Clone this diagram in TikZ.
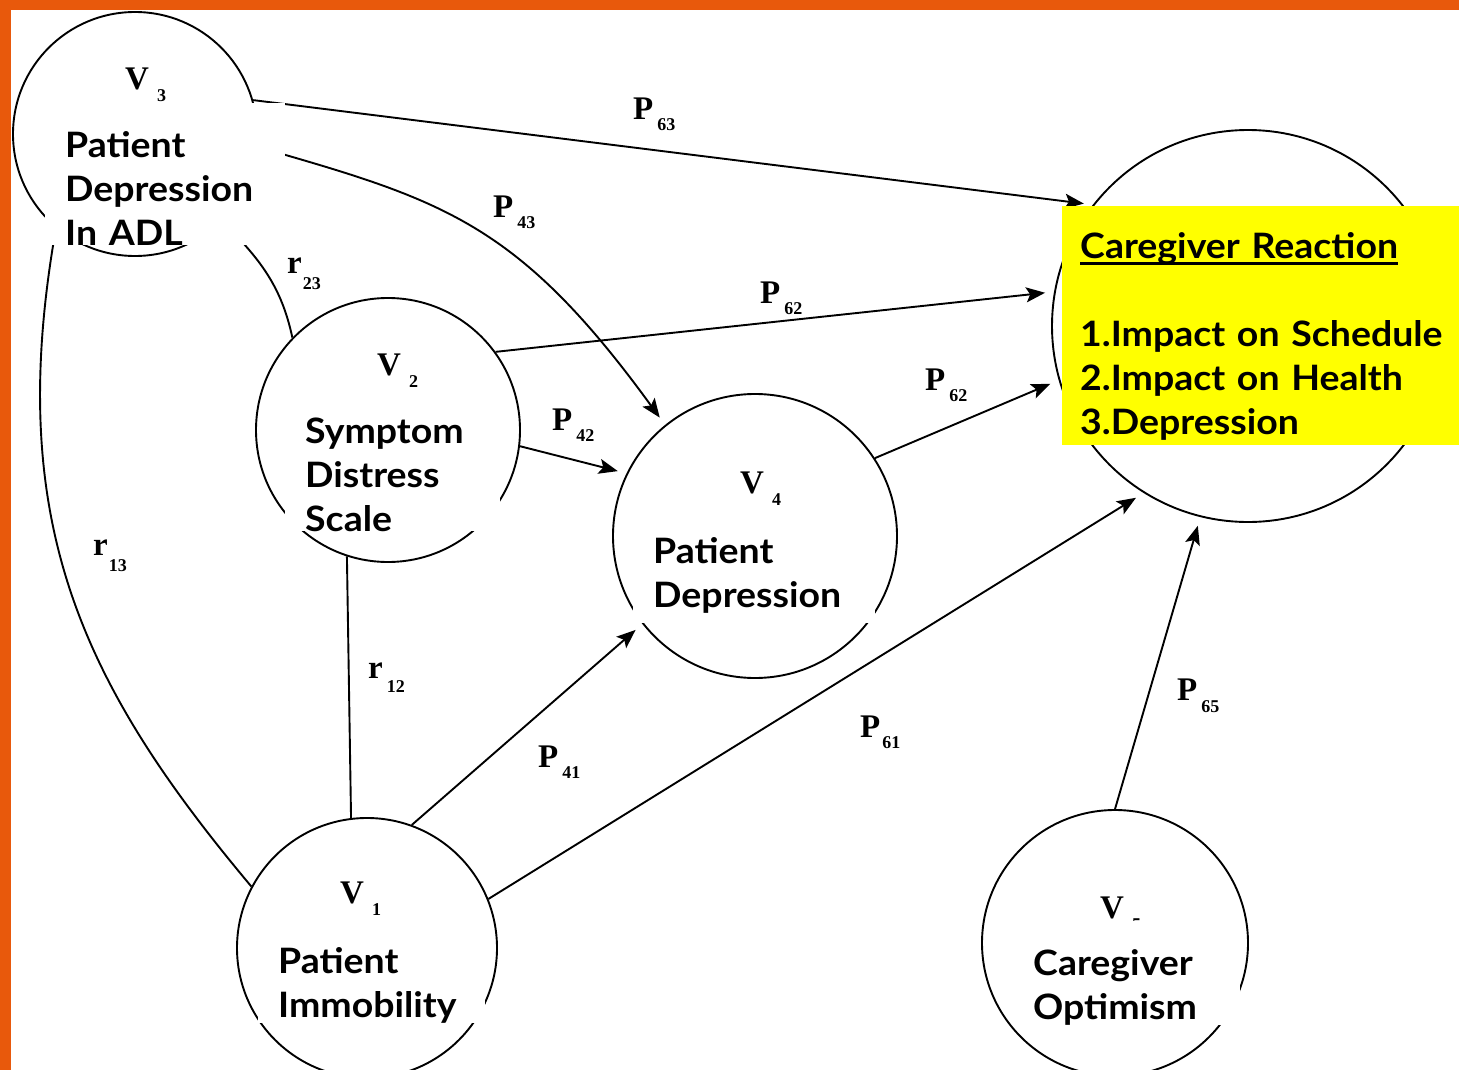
\documentclass[tikz,border=0pt]{standalone}
\usepackage{fontspec}
\setmainfont{Lato}[BoldFont={Lato Bold}, BoldFeatures={FakeStretch=1.07}]
\newfontfamily\scanfont{Liberation Serif}
\usetikzlibrary{arrows.meta}

\definecolor{frame}{RGB}{232,89,12}
\definecolor{note}{RGB}{255,255,0}

% letter with a lowered index, as in the scanned path diagram
\newcommand{\coef}[4]{{\scanfont\bfseries\fontsize{33}{33}\selectfont #1}\hspace{#3}%
  \raisebox{-#4}{\scanfont\bfseries\fontsize{18}{18}\selectfont #2}}
\newcommand{\undr}[1]{\setbox0\hbox{#1}\rlap{\rule[-7pt]{\wd0}{2.8pt}}\box0}

\begin{document}
\begin{tikzpicture}[x=1pt, y=1pt, >={Stealth[length=19pt, width=15pt, inset=4pt]},
    var/.style={draw, circle, line width=1.9pt, inner sep=0pt},
    link/.style={line width=1.9pt},
    effect/.style={link, ->, shorten >=9pt},
    coefl/.style={anchor=base west, inner sep=0pt},
    txtbox/.style={fill=white, align=left, anchor=north west, inner xsep=20pt, inner ysep=0pt,
      font=\bfseries\fontsize{35}{44}\selectfont}]
    \useasboundingbox (0, 0) rectangle (1459, -1070);
    % variables
    \node [var, minimum size=244pt] (v3) at (135, -134)  {};
    \node [var, minimum size=264pt] (v2) at (388, -430)  {};
    \node [var, minimum size=284pt] (v4) at (755, -536)  {};
    \node [var, minimum size=260pt] (v1) at (367, -948)  {};
    \node [var, minimum size=266pt] (v5) at (1115, -943) {};
    \node [var, minimum size=392pt] (v6) at (1248, -326) {};
    % correlations
    \draw [link]    (v3.230) to [out=260, in=130, out looseness=1.1] (v1.152);
    \draw [link]    (v3.-45) to [out=-45, in=102] (v2.136);
    \draw [link]    (v2.252) -- (v1.97);
    % paths
    \draw [effect]  (v3.16) -- (v6.142);
    \draw [effect]  (v3.-6) to [out=-16, in=126, in looseness=1.3] (v4.129);
    \draw [effect]  (v2.36) -- (v6.170);
    \draw [effect]  (v2.-7) -- (v4.154);
    \draw [effect]  (v4.33) -- (v6.196);
    \draw [effect]  (v1.70) -- (v4.218);
    \draw [effect]  (v1.22) -- (v6.238);
    \draw [effect]  (v5.90) -- (v6.256);
    % variable numbers
    \node [coefl] (v3num) at (125, -90)  {\coef{V}{3}{8pt}{12pt}};
    \node [coefl] (v2num) at (377, -375) {\coef{V}{2}{8pt}{12pt}};
    \node [coefl] (v4num) at (740, -493) {\coef{V}{4}{8pt}{12pt}};
    \node [coefl] (v1num) at (340, -903) {\coef{V}{1}{8pt}{12pt}};
    \node [coefl] (v5num) at (1100, -918) {\coef{V}{5}{8pt}{12pt}};
    % coefficients
    \node [coefl] (p63) at (633, -120)  {\coef{P}{63}{4pt}{11pt}};
    \node [coefl] (p43) at (493, -217)  {\coef{P}{43}{4pt}{11pt}};
    \node [coefl] (p62a) at (760, -303) {\coef{P}{62}{4pt}{11pt}};
    \node [coefl] (p42) at (552, -430)  {\coef{P}{42}{4pt}{11pt}};
    \node [coefl] (p62b) at (925, -390) {\coef{P}{62}{4pt}{11pt}};
    \node [coefl] (p41) at (538, -767)  {\coef{P}{41}{4pt}{11pt}};
    \node [coefl] (p61) at (860, -737)  {\coef{P}{61}{2pt}{11pt}};
    \node [coefl] (p65) at (1177, -700) {\coef{P}{65}{4pt}{12pt}};
    \node [coefl] (r23) at (287, -273)  {\coef{r}{23}{1pt}{16pt}};
    \node [coefl] (r13) at (93, -555)   {\coef{r}{13}{1pt}{16pt}};
    \node [coefl] (r12) at (368, -678)  {\coef{r}{12}{4pt}{14pt}};
    % names
    \node [txtbox, text width=200pt] (v3txt) at (45, -103)
      {\rule{0pt}{54pt}Patient\\Depression\\In ADL};
    \node [txtbox, text width=175pt] (v2txt) at (285, -400)
      {\rule{0pt}{43pt}Symptom\\Distress\\Scale};
    \node [txtbox, text width=202pt] (v4txt) at (633, -515)
      {\rule{0pt}{48pt}Patient\\Depression\rule[-16pt]{0pt}{16pt}};
    \node [txtbox, text width=187pt] (v1txt) at (258, -925)
      {\rule{0pt}{48pt}Patient\\Immobility};
    \node [txtbox, text width=187pt] (v5txt) at (1013, -921)
      {\rule{0pt}{54pt}Caregiver\\Optimism};
    \node [txtbox, fill=note, inner xsep=18pt, text width=400pt] (v6txt) at (1062, -206)
      {\rule{0pt}{52pt}\undr{Caregiver Reaction}\\[44pt]1.Impact on Schedule\\2.Impact on Health\\3.Depression\rule[-11pt]{0pt}{11pt}};
    % frame
    \fill [frame] (0, 0) rectangle (1459, -10);
    \fill [frame] (0, 0) rectangle (11, -1070);
\end{tikzpicture}
\end{document}
